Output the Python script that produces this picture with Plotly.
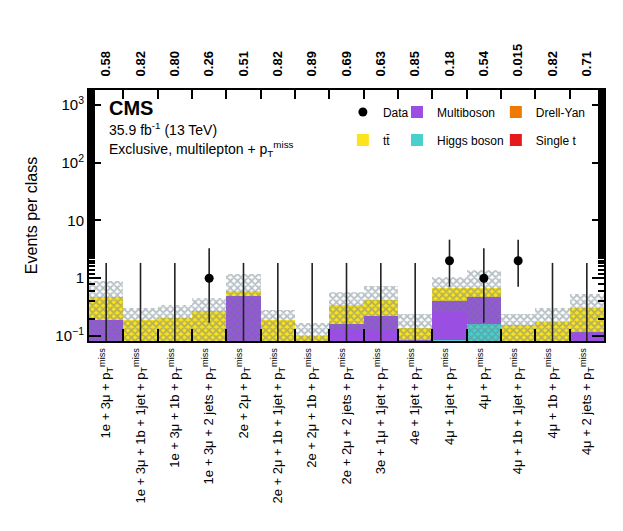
import numpy as np
import plotly.graph_objects as go

# event classes (bottom labels) and p-values (top labels)
met = "p<sub>T</sub><sup>miss</sup>"
classes = ["1e + 3μ + " + met, "1e + 3μ + 1b + 1jet + " + met, "1e + 3μ + 1b + " + met,
           "1e + 3μ + 2 jets + " + met, "2e + 2μ + " + met, "2e + 2μ + 1b + 1jet + " + met,
           "2e + 2μ + 1b + " + met, "2e + 2μ + 2 jets + " + met, "3e + 1μ + 1jet + " + met,
           "4e + 1jet + " + met, "4μ + 1jet + " + met, "4μ + " + met,
           "4μ + 1b + 1jet + " + met, "4μ + 1b + " + met, "4μ + 2 jets + " + met]
p_values = ["0.58", "0.82", "0.80", "0.26", "0.51", "0.82", "0.89", "0.69",
            "0.63", "0.85", "0.18", "0.54", "0.015", "0.82", "0.71"]

# backgrounds, stacked bottom -> top
higgs = [0, 0, 0, 0, 0, 0, 0, 0, 0, 0, 0.085, 0.16, 0, 0, 0]
multiboson = [0.19, 0, 0, 0.005, 0.50, 0, 0, 0.16, 0.22, 0.086, 0.315, 0.32, 0, 0, 0.117]
drell_yan = [0] * 15
single_t = [0] * 15
ttbar = [0.29, 0.185, 0.20, 0.265, 0.10, 0.186, 0.10, 0.18, 0.20, 0.053, 0.27, 0.20, 0.153, 0.174, 0.19]

# uncertainty band
band_lo = [0, 0, 0, 0, 0, 0, 0, 0.134, 0.134, 0, 0.26, 0, 0, 0, 0.11]
band_hi = [0.89, 0.30, 0.34, 0.45, 1.16, 0.28, 0.167, 0.57, 0.72, 0.24, 1.07, 1.36, 0.237, 0.30, 0.54]

# observed data with Poisson errors
data = [0, 0, 0, 1, 0, 0, 0, 0, 0, 0, 2, 1, 2, 0, 0]
err_up = {0: 1.84, 1: 2.30, 2: 2.64}
err_dn = {0: 0.0, 1: 0.83, 2: 1.29}

floor = 1e-3
fig = go.Figure()

# name, values, colour, legend column, rank within column
stack = [("Higgs boson", higgs, "#48d1cc", "legend2", 2),
         ("Multiboson", multiboson, "#9a4ee2", "legend2", 1),
         ("Drell-Yan", drell_yan, "#f07a00", "legend3", 1),
         ("Single t", single_t, "#e41a1c", "legend3", 2),
         ("tt̄", ttbar, "#fde31e", "legend", 2)]
cum = np.zeros(len(classes))
for name, vals, col, leg, rank in stack:
    v = np.array(vals, dtype=float)
    fig.add_trace(go.Bar(x=classes, y=v, base=cum + floor, name=name, marker_color=col,
                         marker_line_width=0, legend=leg, legendgroup=name, legendrank=rank))
    cum = cum + v

lo = np.maximum(np.array(band_lo), floor)
hi = np.array(band_hi)
fig.add_trace(go.Bar(x=classes, y=hi - lo, base=lo, showlegend=False,
                     marker=dict(color="rgba(0,0,0,0)", line_width=0,
                                 pattern=dict(shape="x", fgcolor="#6d828c", size=5,
                                              solidity=0.6, fillmode="overlay"))))

# error bars as segments
ex, ey = [], []
for c, d in zip(classes, data):
    ex += [c, c, None]
    ey += [max(d - err_dn[d], floor), d + err_up[d], None]
fig.add_trace(go.Scatter(x=ex, y=ey, mode="lines", line=dict(color="#222", width=1.6),
                         showlegend=False, hoverinfo="skip"))
dx = [c for c, d in zip(classes, data) if d > 0]
dy = [d for d in data if d > 0]
fig.add_trace(go.Scatter(x=dx, y=dy, mode="markers", name="Data",
                         marker=dict(color="black", size=9), legend="legend",
                         legendgroup="Data", legendrank=1))

# dummy trace for the top axis
fig.add_trace(go.Scatter(x=classes, y=[None] * 15, xaxis="x2", showlegend=False, hoverinfo="skip"))

leg_common = dict(font=dict(size=12, color="black", family="Liberation Sans"),
                  bgcolor="rgba(0,0,0,0)", tracegroupgap=9, yanchor="top", y=0.97,
                  itemwidth=30)
fig.update_layout(
    width=623, height=531,
    margin=dict(l=81, r=27, t=82, b=198),
    paper_bgcolor="white", plot_bgcolor="white",
    font=dict(family="Liberation Sans", color="black"),
    barmode="overlay", bargap=0,
    legend=dict(x=0.493, **leg_common),
    legend2=dict(x=0.598, **leg_common),
    legend3=dict(x=0.79, **leg_common),
    xaxis=dict(type="category", categoryorder="array", categoryarray=classes,
               range=[-0.5, 14.5], tickson="boundaries", ticks="inside", ticklen=12,
               tickwidth=2, tickcolor="black", tickangle=-90, tickfont=dict(size=13),
               showline=True, linewidth=2, linecolor="black", showgrid=False),
    xaxis2=dict(type="category", categoryorder="array", categoryarray=classes,
                overlaying="x", side="top", range=[-0.5, 14.5], tickson="boundaries",
                tickmode="array", tickvals=classes, ticktext=["<b>%s</b>" % p for p in p_values],
                ticks="inside", ticklen=9, tickwidth=2, tickcolor="black", tickangle=-90,
                ticklabelstandoff=9,
                tickfont=dict(size=13, family="Liberation Sans"), showline=True,
                linewidth=2, linecolor="black", showgrid=False),
    yaxis=dict(type="log", range=[np.log10(0.082), np.log10(1800)],
               tickvals=[0.1, 1, 10, 100, 1000],
               ticktext=["10<sup>−1</sup>", "1", "10", "10<sup>2</sup>", "10<sup>3</sup>"],
               ticks="inside", ticklen=12, tickwidth=2, tickcolor="black",
               minor=dict(ticks="inside", ticklen=6, tickwidth=1.5, tickcolor="black", showgrid=False),
               mirror="ticks", showline=True, linewidth=2, linecolor="black",
               showgrid=False, tickfont=dict(size=15),
               title=dict(text="Events per class", font=dict(size=16), standoff=14)),
)

fig.add_annotation(x=0.035, y=0.93, xref="paper", yref="paper", xanchor="left", yanchor="middle",
                   text="<b>CMS</b>", showarrow=False, font=dict(size=20))
fig.add_annotation(x=0.035, y=0.845, xref="paper", yref="paper", xanchor="left", yanchor="middle",
                   text="35.9 fb<sup>-1</sup> (13 TeV)", showarrow=False, font=dict(size=14))
fig.add_annotation(x=0.035, y=0.765, xref="paper", yref="paper", xanchor="left", yanchor="middle",
                   text="Exclusive, multilepton + " + met, showarrow=False, font=dict(size=14))

fig.write_html("out.html")
